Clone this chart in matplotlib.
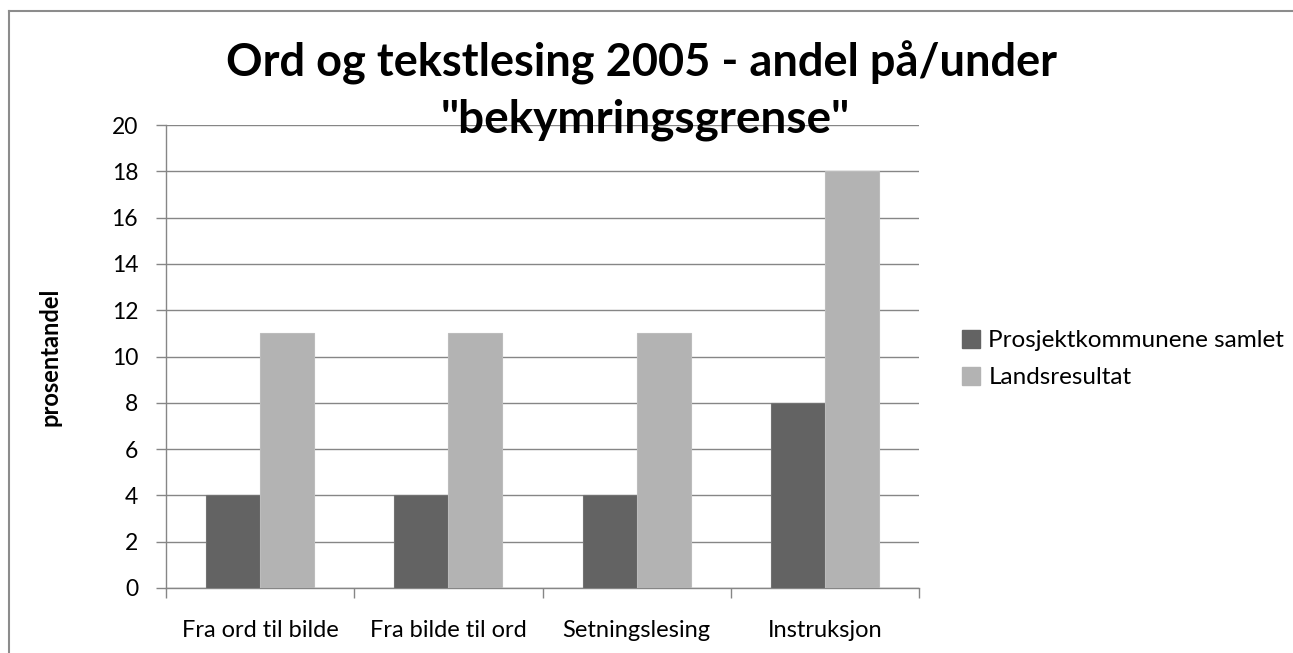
import matplotlib
matplotlib.use("Agg")
import matplotlib.pyplot as plt
from matplotlib.lines import Line2D
from matplotlib.patches import Patch
import numpy as np

plt.rcParams['font.family'] = ['Lato', 'DejaVu Sans']

categories = ["Fra ord til bilde", "Fra bilde til ord", "Setningslesing", "Instruksjon"]
prosjekt = [4, 4, 4, 8]
lands = [11, 11, 11, 18]
series_names = ["Prosjektkommunene samlet", "Landsresultat"]
yticks = [0, 2, 4, 6, 8, 10, 12, 14, 16, 18, 20]

DARK = "#636363"
LIGHT = "#b3b3b3"
AXIS = "#868686"

W, H = 1293, 653
fig = plt.figure(figsize=(W / 100, H / 100), dpi=100)
ax = fig.add_axes([166 / W, (H - 588) / H, (919 - 166) / W, (588 - 125) / H])

x = np.arange(len(categories))
bw = 54 / 188
ax.bar(x - bw / 2, prosjekt, bw, color=DARK, edgecolor="#727272", linewidth=0.8, zorder=3)
ax.bar(x + bw / 2, lands, bw, color=LIGHT, edgecolor="#bcbcbc", linewidth=0.8, zorder=3)

ax.set_xlim(-0.5, len(categories) - 0.5)
ax.set_ylim(0, 20)
ax.set_yticks(yticks)
ax.set_yticklabels([str(v) for v in yticks], fontsize=16.5)
ax.yaxis.grid(True, color=AXIS, linewidth=1, zorder=0)
ax.tick_params(axis='y', length=7, color=AXIS, width=1, pad=13)

ax.set_xticks(x)
ax.set_xticklabels(categories, fontsize=17)
ax.set_xticks(np.arange(len(categories) + 1) - 0.5, minor=True)
ax.tick_params(axis='x', which='major', length=0, pad=23)
ax.tick_params(axis='x', which='minor', length=7, color=AXIS, width=1)

for s in ["top", "right"]:
    ax.spines[s].set_visible(False)
for s in ["left", "bottom"]:
    ax.spines[s].set_color(AXIS)
    ax.spines[s].set_linewidth(1)

ax.set_ylabel("prosentandel", fontsize=17, fontweight="bold", labelpad=36)

fig.text(642 / W, 1 - 63 / H, "Ord og tekstlesing 2005 - andel på/under", ha="center", va="center",
         fontsize=32.5, fontweight="bold")
fig.text(645 / W, 1 - 120 / H, "\"bekymringsgrense\"", ha="center", va="center",
         fontsize=33, fontweight="bold")

handles = [Patch(facecolor=DARK, edgecolor=DARK), Patch(facecolor=LIGHT, edgecolor=LIGHT)]
fig.legend(handles, series_names, loc="upper left", bbox_to_anchor=(952 / W, 1 - 320 / H),
           frameon=False, fontsize=17.5, handlelength=0.75, handleheight=0.75,
           handletextpad=0.35, labelspacing=0.65, borderaxespad=0)

# outer chart border (left and top only, the rest is cropped)
fig.add_artist(Line2D([9 / W, 9 / W], [0, 1 - 11 / H], transform=fig.transFigure, color="#8c8c8c", lw=1.5))
fig.add_artist(Line2D([9 / W, 1], [1 - 11 / H, 1 - 11 / H], transform=fig.transFigure, color="#8c8c8c", lw=1.5))

fig.savefig("out.png", dpi=100)
